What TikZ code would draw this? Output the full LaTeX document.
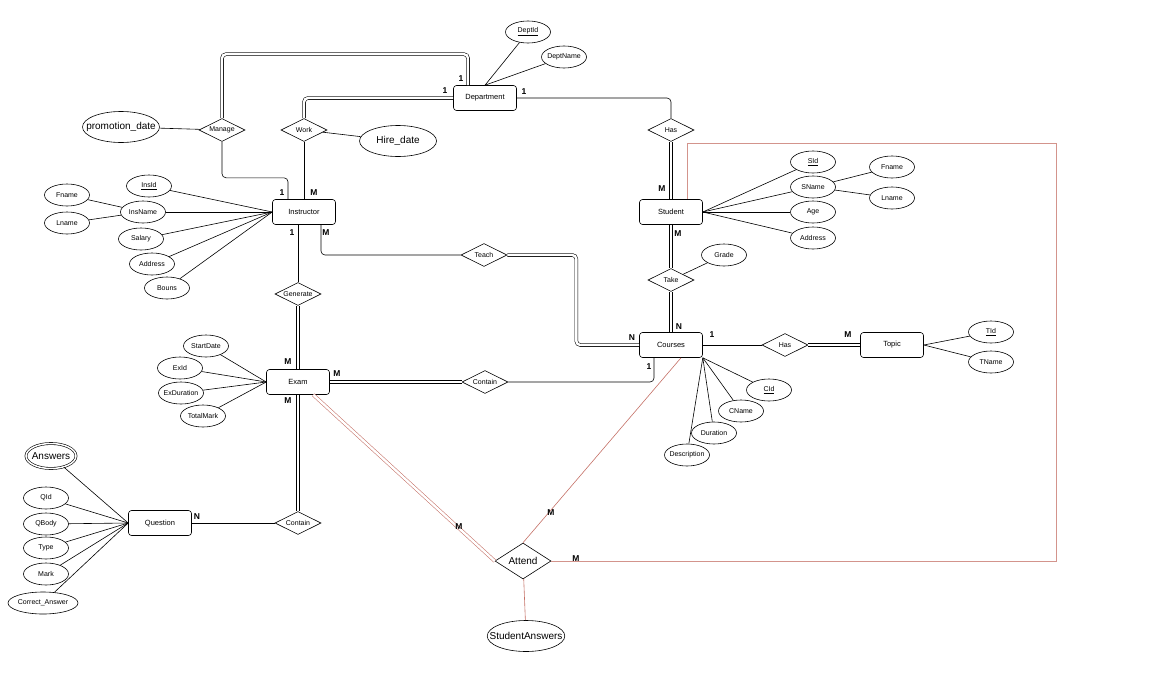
\documentclass[tikz,border=0pt]{standalone}
\usepackage{fontspec}
\setmainfont{Liberation Sans}
\usetikzlibrary{shapes.geometric}
\definecolor{attred}{RGB}{196,112,102}
\tikzset{
  entity/.style={draw, rounded corners=3pt, minimum width=63pt, minimum height=25pt, font=\fontsize{7.5}{9}\selectfont},
  rel/.style={draw, diamond, aspect=2, inner sep=0.5pt, minimum width=46pt, minimum height=23pt, font=\fontsize{7}{8}\selectfont},
  attr/.style={draw, ellipse, inner sep=0pt, inner xsep=-3pt, minimum width=45pt, minimum height=22pt, font=\fontsize{7}{8}\selectfont},
  bigattr/.style={attr, inner xsep=-8pt, minimum width=77pt, minimum height=31pt, font=\fontsize{10}{12}\selectfont},
  card/.style={inner sep=0pt, font=\bfseries\fontsize{8.5}{10}\selectfont},
  conn/.style={rounded corners=4pt},
  dbl/.style={double, double distance=2.4pt, line width=0.55pt},
  redl/.style={draw=attred},
}
\begin{document}
\begin{tikzpicture}[x=1pt, y=-1pt, line width=0.6pt]
  \useasboundingbox (0,0) rectangle (1156,677);
  % entities, relations and attributes
  \node[entity] (dept) at (485,98) {Department};
  \node[attr] (deptid) at (528,32) {\underline{DeptId}};
  \node[attr] (deptname) at (564,57) {DeptName};
  \node[rel] (manage) at (222,130) {Manage};
  \node[rel] (work) at (304,130) {Work};
  \node[bigattr] (promo) at (121,127) {promotion\_date};
  \node[bigattr] (hire) at (398,141) {Hire\_date};
  \node[rel] (has1) at (671,130) {Has};
  \node[entity] (instr) at (304,212) {Instructor};
  \node[attr] (insid) at (149,186) {\underline{InsId}};
  \node[attr] (insname) at (143,212) {InsName};
  \node[attr] (ifname) at (67,195) {Fname};
  \node[attr] (ilname) at (67,223) {Lname};
  \node[attr] (salary) at (141,239) {Salary};
  \node[attr] (iaddr) at (152,264) {Address};
  \node[attr] (bouns) at (167,288) {Bouns};
  \node[rel] (generate) at (298,294) {Generate};
  \node[rel] (teach) at (484,255) {Teach};
  \node[entity] (student) at (671,212) {Student};
  \node[attr] (sid) at (813,162) {\underline{SId}};
  \node[attr] (sname) at (813,187) {SName};
  \node[attr] (age) at (813,212) {Age};
  \node[attr] (saddr) at (813,238) {Address};
  \node[attr] (sfname) at (892,167) {Fname};
  \node[attr] (slname) at (892,198) {Lname};
  \node[rel] (take) at (671,280) {Take};
  \node[attr] (grade) at (724,255) {Grade};
  \node[entity] (courses) at (671,345) {Courses};
  \node[rel] (has2) at (785,345) {Has};
  \node[entity] (topic) at (892,345) {Topic};
  \node[attr] (tid) at (991,332) {\underline{TId}};
  \node[attr] (tname) at (991,362) {TName};
  \node[attr] (cid) at (769,390) {\underline{CId}};
  \node[attr] (cname) at (741,411) {CName};
  \node[attr] (duration) at (714,433) {Duration};
  \node[attr] (desc) at (687,455) {Description};
  \node[entity] (exam) at (298,382) {Exam};
  \node[attr] (startdate) at (206,346) {StartDate};
  \node[attr] (exid) at (180,368) {ExId};
  \node[attr] (exdur) at (181,393) {ExDuration};
  \node[attr] (totalmark) at (203,416) {TotalMark};
  \node[rel] (contain1) at (485,382) {Contain};
  \node[entity] (question) at (160,523) {Question};
  \node[bigattr, double, double distance=1.5pt, minimum width=50pt, minimum height=25pt] (answers) at (51,456) {Answers};
  \node[attr] (qid) at (46,498) {QId};
  \node[attr] (qbody) at (46,524) {QBody};
  \node[attr] (type) at (46,548) {Type};
  \node[attr] (mark) at (46,574) {Mark};
  \node[attr, minimum width=70pt] (correct) at (43,603) {Correct\_Answer};
  \node[rel] (contain2) at (298,523) {Contain};
  \node[rel, minimum width=56pt, minimum height=36pt, font=\fontsize{10}{12}\selectfont] (attend) at (523,561) {Attend};
  \node[bigattr, inner xsep=-9pt, minimum width=76pt] (stanswers) at (526,636) {StudentAnswers};
  \coordinate (rc) at (1056,143);
  % attribute lines
  \draw (deptid) -- (dept.north);
  \draw (deptname) -- (dept.north);
  \draw (promo) -- (manage);
  \draw (work) -- (hire);
  \foreach \a in {insid,insname,salary,iaddr,bouns}
    \draw (\a) -- (instr.west);
  \draw (ifname) -- (insname);
  \draw (ilname) -- (insname);
  \foreach \a in {sid,sname,age,saddr}
    \draw (student.east) -- (\a);
  \draw (sname) -- (sfname);
  \draw (sname) -- (slname);
  \draw (take) -- (grade);
  \foreach \a in {cid,cname,duration,desc}
    \draw (courses.south east) -- (\a);
  \draw (topic.east) -- (tid);
  \draw (topic.east) -- (tname);
  \foreach \a in {startdate,exid,exdur,totalmark}
    \draw (exam.west) -- (\a);
  \foreach \a in {answers,qid,qbody,type,mark,correct}
    \draw (question.west) -- (\a);
  % relationship lines
  \begin{scope}[conn]
    \draw[dbl] (manage.north) -- ++(0,-64) -| ([xshift=-17pt]dept.north);
    \draw (manage.south) -- ++(0,36) -| ([xshift=-16pt]instr.north);
    \draw[dbl] (work.north) |- (dept.west);
    \draw (work) -- (instr);
    \draw (dept.east) -| (has1.north);
    \draw[dbl] (has1) -- (student);
    \draw[dbl] (student) -- (take);
    \draw[dbl] (take) -- (courses);
    \draw ([xshift=17pt]instr.south) |- (teach.west);
    \draw[dbl] (teach.east) -- ++(69,0) |- (courses.west);
    \draw ([xshift=-6pt]instr.south) -- (generate.north);
    \draw[dbl] (generate) -- (exam);
    \draw[dbl] (exam) -- (contain1);
    \draw (contain1.east) -| ([xshift=-17pt]courses.south);
    \draw (courses) -- (has2);
    \draw[dbl] (has2) -- (topic);
    \draw[dbl] (exam) -- (contain2);
    \draw (contain2) -- (question);
  \end{scope}
  \draw[redl, dbl] (exam.-40) -- (attend.west);
  \draw[redl] (courses.-52) -- (attend.north);
  \draw[redl] (attend) -- (stanswers);
  \draw[draw=attred!75, line width=0.5pt] (attend.east) -| (rc) -| ([xshift=16pt]student.north);
  % cardinalities
  \node[card] (k1) at (461,79) {1};
  \node[card] (k2) at (445,91) {1};
  \node[card] (k3) at (524,92) {1};
  \node[card] (k4) at (662,189) {M};
  \node[card] (k5) at (282,193) {1};
  \node[card] (k6) at (314,193) {M};
  \node[card] (k7) at (292,233) {1};
  \node[card] (k8) at (326,233) {M};
  \node[card] (k9) at (678,234) {M};
  \node[card] (k10) at (679,327) {N};
  \node[card] (k11) at (632,338) {N};
  \node[card] (k12) at (712,335) {1};
  \node[card] (k13) at (848,335) {M};
  \node[card] (k14) at (649,367) {1};
  \node[card] (k15) at (288,362) {M};
  \node[card] (k16) at (337,374) {M};
  \node[card] (k17) at (288,401) {M};
  \node[card] (k18) at (197,517) {N};
  \node[card] (k19) at (459,527) {M};
  \node[card] (k20) at (551,513) {M};
  \node[card] (k21) at (576,559) {M};
\end{tikzpicture}
\end{document}
